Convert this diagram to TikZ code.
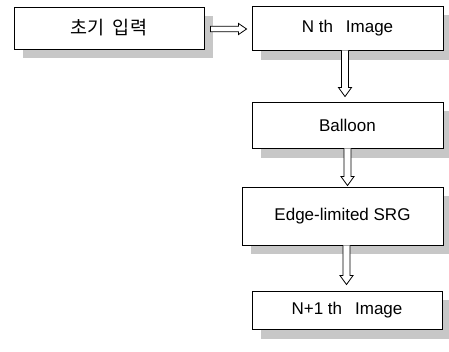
\documentclass[tikz,border=0pt]{standalone}
\usepackage{fontspec}
\setmainfont{Liberation Sans}
\newfontfamily\kofont{Noto Sans CJK KR}
\usetikzlibrary{calc}
\begin{document}
\begin{tikzpicture}[x=1pt,y=-1pt,
  box/.style={draw=black, line width=0.9pt, fill=white, minimum width=#1, inner sep=0pt, font=\fontsize{17}{19}\selectfont},
  box/.default=191pt,
  shadowfill/.style={fill=black!22},
  blk/.style={draw=black, line width=0.8pt, fill=white, line join=miter}]
\useasboundingbox (0,0) rectangle (449,351);
% shadows
\fill[shadowfill] (23,16) rectangle (213,58);
\fill[shadowfill] (261,15) rectangle (449,60);
\fill[shadowfill] (261,111) rectangle (449,158);
\fill[shadowfill] (251,196) rectangle (449,254);
\fill[shadowfill] (261,300) rectangle (449,339);
% boxes
\node[box=190pt, minimum height=42pt] (b1) at (109,28) {\kofont\fontsize{18.5}{20}\selectfont 초기\hspace{8pt}입력};
\node[box, minimum height=44pt] (b2) at (347.5,28) {N th\hspace{13pt}Image};
\node[box, minimum height=46pt] (b3) at (347.5,125) {Balloon};
\node[box=201pt, minimum height=58pt] (b4) at (342.5,216) {Edge-limited SRG};
\node[box=190pt, minimum height=38pt] (b5) at (347,310) {N+1 th\hspace{13pt}Image};
% arrow end points
\coordinate (h1) at ($(b1.east)+(6,1)$);
\coordinate (h2) at ($(b2.west)+(-5,1)$);
\coordinate (v1a) at ($(b2.south)+(-2.5,0)$);
\coordinate (v1b) at ($(b3.north)+(-2.5,-5)$);
\coordinate (v2a) at ($(b3.south)+(0,0)$);
\coordinate (v2b) at ($(b4.north)+(5,-1)$);
\coordinate (v3a) at ($(b4.south)+(4,0)$);
\coordinate (v3b) at ($(b5.north)+(0,-6)$);
% horizontal arrow
\draw[blk] let \p1=(h1), \p2=(h2) in
  (\x1,\y1+2.8pt) -- (\x2-8pt,\y1+2.8pt) -- (\x2-8pt,\y1+5.5pt) -- (\x2,\y1)
  -- (\x2-8pt,\y1-5.5pt) -- (\x2-8pt,\y1-2.8pt) -- (\x1,\y1-2.8pt) -- cycle;
% vertical arrows
\foreach \a/\b in {v1a/v1b, v2a/v2b, v3a/v3b}{
  \draw[blk] let \p1=(\a), \p2=(\b) in
    (\x1-3.5pt,\y1) -- (\x1-3.5pt,\y2+9pt) -- (\x1-6.5pt,\y2+9pt) -- (\x1,\y2)
    -- (\x1+6.5pt,\y2+9pt) -- (\x1+3.5pt,\y2+9pt) -- (\x1+3.5pt,\y1);
}
\end{tikzpicture}
\end{document}
